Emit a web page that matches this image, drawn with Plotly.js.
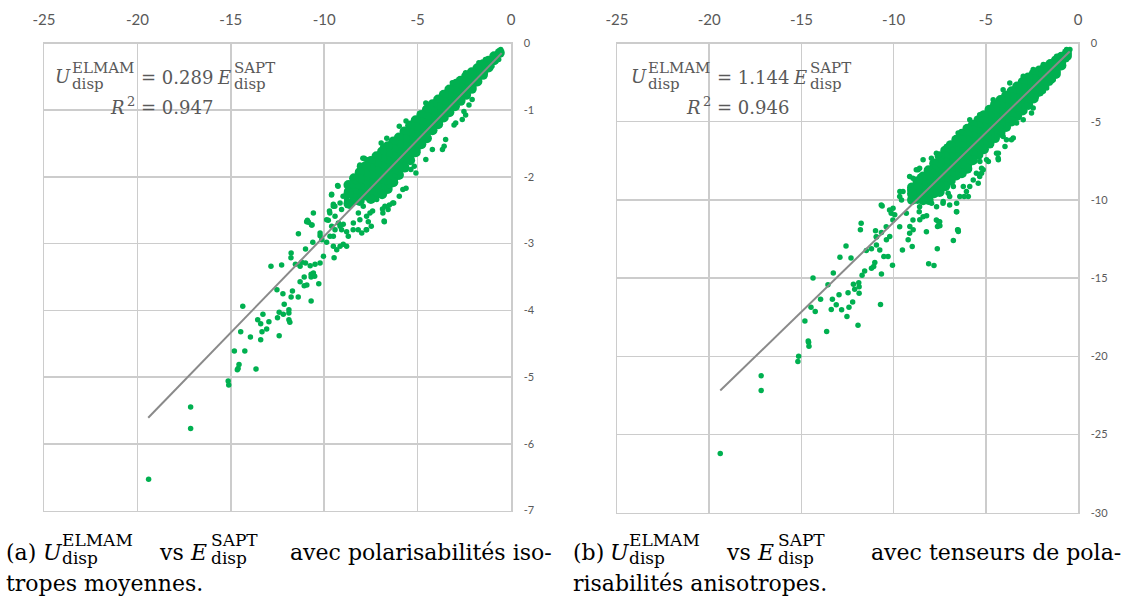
<!DOCTYPE html>
<html><head><meta charset="utf-8">
<script src="https://cdn.plot.ly/plotly-3.0.1.min.js"></script>
<style>html,body{margin:0;padding:0;background:#fff}</style>
</head><body><div id="chart" style="width:1128px;height:603px"></div>
<script>
// ---------- DATA ----------
// Panel (a): isotropic mean polarisabilities
const leftScatter = [
[-19.40,-6.53],[-17.15,-5.45],[-17.15,-5.77],[-15.14,-5.06],[-15.11,-5.12],[-14.61,-4.87],[-14.56,-4.81],[-14.65,-4.89],[-13.65,-4.88],[-14.81,-4.61],[-14.25,-4.61],[-14.47,-4.32],[-13.95,-4.40],[-14.36,-3.94],[-13.56,-4.14],[-13.40,-4.20],[-13.33,-4.32],[-13.40,-4.44],[-13.08,-4.28],[-12.96,-4.17],[-13.28,-4.06],[-12.41,-4.38],[-12.50,-4.11],[-12.41,-4.03],[-12.19,-4.06],[-12.14,-3.91],[-11.89,-3.99],[-11.89,-4.04],[-11.89,-4.14],[-11.84,-4.18],[-12.53,-3.69],[-12.21,-3.75],[-11.77,-3.80],[-11.70,-3.71],[-11.39,-3.80],[-10.70,-3.86],[-11.29,-3.57],[-11.07,-3.63],[-10.93,-3.62],[-11.07,-3.50],[-10.70,-3.50],[-10.58,-3.44],[-10.29,-3.60],[-10.70,-3.46],[-10.51,-3.49],[-12.85,-3.34],[-12.28,-3.32],[-11.78,-3.21],[-11.77,-3.14],[-11.54,-3.31],[-11.29,-3.34],[-11.20,-3.28],[-11.00,-3.08],[-11.00,-3.29],[-10.61,-2.98],[-10.75,-3.33],[-10.49,-3.31],[-10.22,-3.29],[-10.04,-3.19],[-11.38,-2.85],[-10.90,-2.65],[-10.84,-2.68],[-10.65,-2.72],[-10.22,-2.88],[-10.13,-2.94],[-9.87,-2.98],[-9.69,-2.89],[-9.51,-3.04],[-9.47,-3.21],[-9.33,-3.09],[-9.15,-3.04],[-8.98,-3.01],[-8.80,-3.04],[-9.78,-2.65],[-9.72,-2.51],[-9.60,-2.74],[-9.42,-2.79],[-9.24,-2.69],[-9.07,-2.79],[-8.98,-2.71],[-8.71,-2.89],[-8.45,-2.79],[-8.18,-2.79],[-7.73,-2.79],[-6.79,-2.66],[-9.28,-2.13],[-9.60,-2.26],[-9.51,-2.41],[-9.15,-2.39],[-8.80,-2.21],[-8.45,-2.34],[-8.18,-2.14],[-8.09,-1.82],[-7.86,-1.72],[-7.73,-2.09],[-7.64,-2.24],[-7.41,-2.51],[-6.88,-2.48],[-6.58,-2.49],[-6.28,-2.39],[-7.73,-2.59],[-8.09,-2.64],
[-10.94,-2.67],[-10.68,-2.72],[-9.61,-2.27],[-9.26,-2.14],[-9.43,-2.44],[-9.70,-2.54],[-8.64,-2.19],[-8.99,-2.29],[-8.46,-2.14],[-8.11,-1.84],[-7.93,-1.72],[-7.75,-1.74],[-6.95,-1.49],[-6.65,-1.42],[-6.86,-1.54],[-5.62,-1.16],[-5.98,-1.24],[-4.56,-0.89],[-4.29,-0.92],[-3.14,-0.59],[-2.96,-0.57],[-2.43,-0.44],[-1.72,-0.29],[-1.37,-0.24],
[-6.78,-2.67],[-7.75,-2.79],[-7.48,-2.74],[-6.86,-2.54],[-6.51,-2.42],[-6.33,-2.39],[-5.79,-2.19],[-5.62,-2.17],[-5.98,-2.29],[-5.36,-1.89],[-5.09,-1.94],[-5.18,-1.84],[-4.56,-1.74],[-4.21,-1.59],[-3.67,-1.59],[-3.58,-1.54],[-3.50,-1.44],[-3.05,-1.22],[-2.96,-1.19],[-2.61,-1.14],[-2.43,-1.07],[-2.52,-1.02],[-2.08,-0.84],[-2.25,-0.92],[-1.37,-0.44],[-1.02,-0.34],[-0.66,-0.24],[-0.55,-0.09],
[-9.87,-2.64],[-9.51,-2.44],[-9.42,-2.59],[-9.07,-2.49],[-8.80,-2.34],[-8.62,-2.44],[-8.35,-2.29],[-8.17,-2.54],[-7.91,-2.44],[-7.73,-2.29],[-7.64,-2.67],[-7.55,-2.54],[-7.19,-2.34],[-7.01,-2.22],[-6.75,-2.44],[-6.48,-2.14],[-9.15,-2.74],[-8.80,-2.82],[-8.44,-2.69],[-7.99,-2.84],[-9.51,-2.89],[-10.22,-2.84],[-10.58,-2.54]
];
// dense core of the cloud, column by column
const leftCoreX = [-0.6,-0.9,-1.2,-1.5,-1.8,-2.1,-2.4,-2.7,-3.0,-3.3,-3.6,-3.9,-4.2,-4.5,-4.8,-5.1,-5.4,-5.7,-6.0,-6.3,-6.6,-6.9,-7.2,-7.5,-7.8,-8.1,-8.4,-8.7];
const leftCoreY = [
[-0.14],[-0.19,-0.25],[-0.26,-0.36],[-0.31,-0.40,-0.47],[-0.37,-0.47,-0.57],[-0.43,-0.53,-0.63,-0.68],[-0.49,-0.59,-0.69,-0.77],[-0.56,-0.66,-0.76,-0.86],[-0.62,-0.72,-0.83,-0.94],[-0.69,-0.80,-0.91,-1.03],[-0.77,-0.88,-0.99,-1.11],[-0.84,-0.95,-1.06,-1.17,-1.21],[-0.91,-1.02,-1.13,-1.24,-1.30],[-0.99,-1.10,-1.21,-1.32,-1.42],[-1.07,-1.18,-1.29,-1.40,-1.51],[-1.15,-1.26,-1.37,-1.48,-1.59,-1.63],[-1.23,-1.34,-1.45,-1.56,-1.67,-1.75],[-1.32,-1.43,-1.54,-1.65,-1.76,-1.86],[-1.41,-1.52,-1.63,-1.74,-1.85,-1.97],[-1.47,-1.58,-1.69,-1.80,-1.91,-2.02,-2.08],[-1.54,-1.65,-1.76,-1.87,-1.98,-2.09,-2.18],[-1.62,-1.73,-1.84,-1.95,-2.06,-2.17,-2.26],[-1.69,-1.80,-1.91,-2.02,-2.13,-2.25],[-1.76,-1.87,-1.98,-2.09,-2.20,-2.33],[-1.84,-1.95,-2.06,-2.17,-2.28],[-1.93,-2.04,-2.15,-2.26,-2.36],[-2.02,-2.13,-2.24,-2.35],[-2.12,-2.25,-2.40]
];
const leftTrendX = [-19.42,-0.50];
const leftTrendY = [-5.61,-0.145];

// Panel (b): anisotropic polarisability tensors
const rightScatter = [
[-19.40,-26.22],[-17.18,-21.25],[-17.18,-22.19],[-15.15,-20.00],[-15.19,-20.33],[-14.61,-19.10],[-14.59,-19.35],[-14.63,-19.02],[-13.63,-18.41],[-11.93,-18.02],[-14.81,-17.75],[-14.25,-17.13],[-14.48,-16.87],[-13.96,-16.36],[-14.37,-15.00],[-13.38,-17.00],[-13.32,-16.36],[-13.11,-16.70],[-12.96,-16.06],[-12.82,-17.02],[-12.53,-17.45],[-12.42,-16.87],[-12.22,-16.53],[-12.47,-15.93],[-12.18,-15.40],[-12.11,-15.72],[-11.87,-15.55],[-11.87,-15.97],[-11.89,-15.29],[-10.71,-16.68],[-13.56,-15.42],[-13.27,-14.67],[-12.91,-13.67],[-12.31,-13.71],[-12.58,-12.94],[-11.76,-11.50],[-11.80,-11.91],[-11.71,-14.82],[-11.57,-14.54],[-11.20,-14.37],[-11.08,-14.26],[-10.66,-14.73],[-10.06,-14.18],[-10.53,-13.62],[-10.30,-13.62],[-11.02,-14.01],[-11.48,-13.24],[-11.20,-13.13],[-10.93,-12.88],[-10.75,-13.20],[-10.98,-11.98],[-10.93,-12.38],[-10.66,-12.08],[-10.39,-12.55],[-10.21,-12.34],[-10.62,-10.39],[-10.03,-10.54],[-9.94,-10.95],[-9.52,-13.20],[-8.99,-12.98],[-9.21,-12.55],[-8.94,-11.91],[-9.12,-11.70],[-8.58,-11.27],[-8.61,-10.75],[-8.21,-11.02],[-8.10,-14.09],[-7.81,-14.20],[-7.63,-13.13],[-7.62,-11.70],[-7.58,-11.38],[-7.49,-11.66],[-6.76,-12.60],[-6.58,-10.75],[-6.53,-11.91],[-6.49,-12.02],[-6.58,-10.21],[-7.31,-10.11],[-7.67,-10.43],[-7.94,-10.21],[-8.58,-9.79],[-8.94,-10.11],[-9.57,-10.00],[-9.66,-9.47],[-9.12,-9.36],[-8.76,-9.15],[-8.30,-8.93],[-8.03,-8.82],[-7.85,-8.18],[-7.49,-7.76],[-7.49,-9.15],[-7.04,-9.57],[-6.76,-9.15],[-6.22,-9.15],[-6.17,-9.79],[-5.95,-9.79],[-5.68,-8.72],[-5.41,-8.93],[-5.23,-8.29],[-5.32,-7.54],[-4.86,-7.54],[-4.32,-7.01],[-4.32,-7.44],[-3.96,-6.58],[-8.67,-8.08],[-8.21,-8.29],[-8.58,-8.50],
[-10.67,-10.32],[-10.22,-10.64],[-10.13,-10.86],[-9.67,-9.79],[-9.49,-9.47],[-9.13,-8.50],[-8.95,-8.61],[-8.77,-8.08],[-8.59,-7.97],[-8.40,-7.44],[-7.95,-7.33],[-7.68,-7.01],[-7.50,-7.12],[-7.14,-6.58],[-6.96,-6.54],[-6.50,-5.73],[-6.32,-5.62],[-5.87,-4.87],[-5.33,-4.55],[-4.60,-3.59],[-4.06,-2.95],[-3.70,-2.52],[-2.97,-2.09],[-2.43,-1.67],[-1.88,-1.35],[-1.16,-0.81],[-0.62,-0.39],
[-7.68,-11.28],[-7.50,-11.39],[-6.50,-11.92],[-6.59,-10.75],[-6.96,-10.32],[-7.32,-10.21],[-6.41,-9.79],[-6.05,-9.47],[-5.87,-9.15],[-5.51,-8.29],[-5.14,-8.08],[-5.33,-8.51],[-5.23,-7.97],[-4.96,-7.44],[-4.42,-7.01],[-4.33,-7.33],[-4.06,-5.94],[-3.88,-6.15],[-3.61,-6.15],[-3.51,-6.05],[-3.33,-5.09],[-2.97,-4.87],[-2.88,-4.02],[-2.79,-3.91],[-2.52,-4.45],[-2.43,-4.12],[-2.25,-3.38],[-1.88,-3.06],[-1.70,-2.84],[-1.52,-2.52],[-1.34,-2.31],[-0.89,-1.45],[-0.62,-1.03],[-0.44,-0.39],
[-10.94,-12.35],[-10.40,-11.71],[-10.04,-11.28],[-9.67,-11.71],[-9.31,-10.86],[-8.95,-11.28],[-8.59,-10.43],[-8.40,-11.07],[-8.04,-10.00],[-9.13,-12.14],[-8.22,-12.03],[-6.96,-9.79]
];
const rightCoreX = [-0.6,-0.9,-1.2,-1.5,-1.8,-2.1,-2.4,-2.7,-3.0,-3.3,-3.6,-3.9,-4.2,-4.5,-4.8,-5.1,-5.4,-5.7,-6.0,-6.3,-6.6,-6.9,-7.2,-7.5,-7.8,-8.1,-8.4,-8.7,-9.0];
const rightCoreY = [
[-0.6,-0.8],[-0.85,-1.15,-1.4],[-1.08,-1.42,-1.76,-1.95],[-1.31,-1.67,-2.03,-2.3],[-1.52,-1.88,-2.24,-2.6],[-1.73,-2.09,-2.45,-2.81,-3.08],[-1.93,-2.29,-2.65,-3.01,-3.37,-3.52],[-2.17,-2.55,-2.93,-3.31,-3.69,-3.93],[-2.46,-2.84,-3.22,-3.60,-3.98,-4.28],[-2.75,-3.13,-3.51,-3.89,-4.27,-4.64],[-3.05,-3.43,-3.81,-4.19,-4.57,-4.99],[-3.34,-3.72,-4.10,-4.48,-4.86,-5.34],[-3.62,-4.00,-4.38,-4.76,-5.14,-5.52,-5.70],[-3.91,-4.29,-4.67,-5.05,-5.43,-5.81,-6.05],[-4.24,-4.62,-5.00,-5.38,-5.76,-6.14,-6.40],[-4.58,-4.96,-5.34,-5.72,-6.10,-6.48,-6.76],[-4.90,-5.28,-5.66,-6.04,-6.42,-6.80,-7.11],[-5.19,-5.57,-5.95,-6.33,-6.71,-7.09,-7.47],[-5.45,-5.83,-6.21,-6.59,-6.97,-7.35,-7.73,-8.01],[-5.81,-6.19,-6.57,-6.95,-7.33,-7.71,-8.09,-8.30],[-6.16,-6.54,-6.92,-7.30,-7.68,-8.06,-8.44],[-6.50,-6.88,-7.26,-7.64,-8.02,-8.40,-8.78],[-6.85,-7.23,-7.61,-7.99,-8.37,-8.75,-9.13],[-7.21,-7.59,-7.97,-8.35,-8.73,-9.11,-9.49],[-7.68,-8.06,-8.44,-8.82,-9.20,-9.58],[-8.10,-8.48,-8.86,-9.24,-9.62,-10.0],[-8.50,-8.88,-9.26,-9.64,-10.02],[-8.80,-9.18,-9.56,-9.94],[-9.2,-9.6,-10.0]
];
const rightTrendX = [-19.40,-0.45];
const rightTrendY = [-22.19,-0.51];

const xTickVals = [-25,-20,-15,-10,-5,0];
const xTickText = ['-25','-20','-15','-10','-5','0'];
const leftYTicks = [-7,-6,-5,-4,-3,-2,-1,0];
const leftYText = ['-7','-6','-5','-4','-3','-2','-1','0'];
const rightYTicks = [-30,-25,-20,-15,-10,-5,0];
const rightYText = ['-30','-25','-20','-15','-10','-5','0'];

const eqLeft = {slope:'0.289', r2:'0.947'};
const eqRight = {slope:'1.144', r2:'0.946'};
const captionLeft = {label:'(a)', rest:'avec polarisabilités iso-', line2:'tropes moyennes.'};
const captionRight = {label:'(b)', rest:'avec tenseurs de pola-', line2:'risabilités anisotropes.'};

// ---------- BUILD ----------
const W = 1128, H = 603;
const GREEN = '#00B050';
function unzip(pairs){return [pairs.map(p=>p[0]), pairs.map(p=>p[1])];}
function flatCore(xs, ys){const X=[],Y=[];xs.forEach((x,i)=>ys[i].forEach(y=>{X.push(x);Y.push(y);}));return [X,Y];}

const [lsx,lsy] = unzip(leftScatter);
const [rsx,rsy] = unzip(rightScatter);
const [lcx,lcy] = flatCore(leftCoreX,leftCoreY);
const [rcx,rcy] = flatCore(rightCoreX,rightCoreY);

const traces = [
 {x:lcx,y:lcy,xaxis:'x',yaxis:'y',mode:'markers',type:'scatter',marker:{color:GREEN,size:10},hoverinfo:'skip'},
 {x:lsx,y:lsy,xaxis:'x',yaxis:'y',mode:'markers',type:'scatter',marker:{color:GREEN,size:5.5}},
 {x:leftTrendX,y:leftTrendY,xaxis:'x',yaxis:'y',mode:'lines',type:'scatter',line:{color:'#8a8a8a',width:2}},
 {x:rcx,y:rcy,xaxis:'x2',yaxis:'y2',mode:'markers',type:'scatter',marker:{color:GREEN,size:10},hoverinfo:'skip'},
 {x:rsx,y:rsy,xaxis:'x2',yaxis:'y2',mode:'markers',type:'scatter',marker:{color:GREEN,size:5.5}},
 {x:rightTrendX,y:rightTrendY,xaxis:'x2',yaxis:'y2',mode:'lines',type:'scatter',line:{color:'#8a8a8a',width:2}}
];

const GRID = '#cccccc';
function xAx(domain, anchor){return {domain, anchor, range:[-25,0], tickvals:xTickVals, ticktext:xTickText, side:'top',
  showgrid:true, gridcolor:GRID, gridwidth:1.5, zeroline:false, showline:true, mirror:true, linecolor:GRID, linewidth:1.5,
  ticks:'outside', ticklen:11, tickcolor:'rgba(0,0,0,0)', tickfont:{family:'Lato, sans-serif', size:15, color:'#595959'}, fixedrange:true};}
function yAx(domain, anchor, range, ticks, text){return {domain, anchor, range, tickvals:ticks, ticktext:text, side:'right',
  showgrid:true, gridcolor:GRID, gridwidth:1.5, zeroline:false, showline:true, mirror:true, linecolor:GRID, linewidth:1.5,
  ticks:'outside', ticklen:9, tickcolor:'rgba(0,0,0,0)', tickfont:{family:'Lato, sans-serif', size:11, color:'#595959'}, fixedrange:true};}

const annotations = [];
function ann(text, px, py, size, color, family, anchor){
  annotations.push({text, x:px/W, y:1-py/H, xref:'paper', yref:'paper', xanchor:anchor||'left', yanchor:'middle',
    showarrow:false, borderpad:0, font:{family:family||'DejaVu Serif', size, color}});
}
function eqBlock(dx, eq){
  const c = '#595959';
  ann('<i>U</i>', 54+dx, 77, 18, c);
  ann('ELMAM', 71+dx, 68, 15, c);
  ann('disp', 71+dx, 84, 15, c);
  ann('= '+eq.slope, 140+dx, 78, 18, c);
  ann('<i>E</i>', 216+dx, 78, 18, c);
  ann('SAPT', 233+dx, 68, 15, c);
  ann('disp', 233+dx, 84, 15, c);
  ann('<i>R</i>', 109+dx, 108, 18, c);
  ann('2', 126+dx, 101, 13, c);
  ann('= '+eq.r2, 140+dx, 108, 18, c);
}
eqBlock(0, eqLeft);
eqBlock(576, eqRight);

function caption(dx, cap, rightEdge){
  const c = '#000000', f = 'DejaVu Serif';
  ann(cap.label, 5+dx, 552, 22, c, f);
  ann('<i>U</i>', 42+dx, 552, 22, c, f);
  ann('ELMAM', 61+dx, 540, 17, c, f);
  ann('disp', 61+dx, 558, 17, c, f);
  ann('vs', 158+dx, 552, 22, c, f);
  ann('<i>E</i>', 189+dx, 552, 22, c, f);
  ann('SAPT', 210+dx, 540, 17, c, f);
  ann('disp', 210+dx, 558, 17, c, f);
  ann(cap.rest, rightEdge, 552, 22, c, f, 'right');
  ann(cap.line2, 5+dx, 583, 22, c, f);
}
caption(0, captionLeft, 553);
caption(567, captionRight, 1122);

const layout = {
  width:W, height:H, margin:{l:0,r:0,t:0,b:0}, paper_bgcolor:'#ffffff', plot_bgcolor:'#ffffff',
  showlegend:false,
  xaxis: xAx([44/W, 511/W], 'y'),
  yaxis: yAx([1-510.5/H, 1-43.5/H], 'x', [-7,0], leftYTicks, leftYText),
  xaxis2: xAx([617/W, 1078/W], 'y2'),
  yaxis2: yAx([1-512.7/H, 1-43.5/H], 'x2', [-30,0], rightYTicks, rightYText),
  annotations
};
Plotly.newPlot('chart', traces, layout, {staticPlot:true, displayModeBar:false});
</script>
</body></html>
